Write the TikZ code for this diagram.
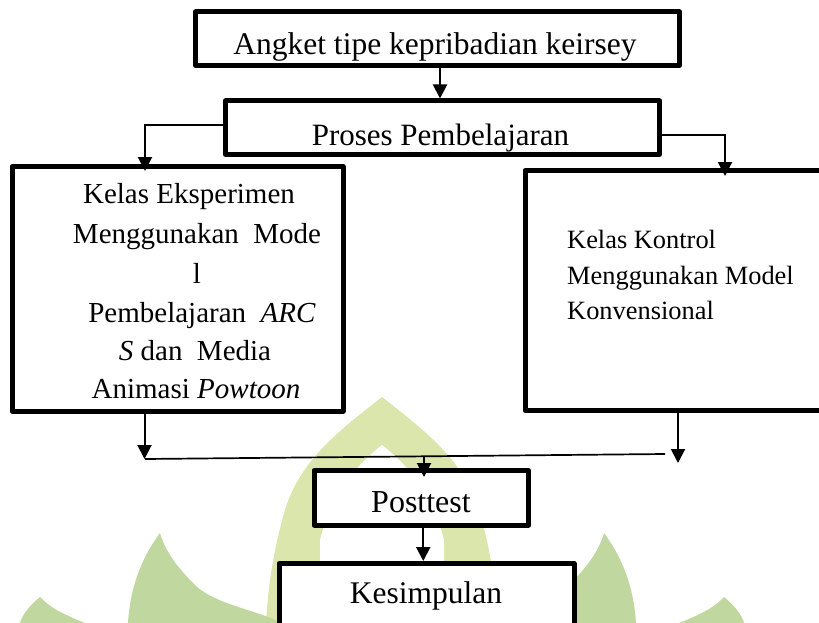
\documentclass[tikz,border=0pt]{standalone}
\usepackage{fontspec}
\setmainfont{Liberation Serif}
\usetikzlibrary{arrows.meta}
\definecolor{wmlight}{RGB}{218,230,172}
\definecolor{wmdark}{RGB}{193,215,160}
\newcommand{\myfs}[1]{\fontsize{#1}{#1}\selectfont}
\tikzset{
  box/.style={draw=black, fill=white, line width=5pt, line join=round, rectangle, inner sep=0pt},
  txt/.style={anchor=base, inner sep=0pt},
  arr/.style={line width=2pt, -{Triangle[width=14pt,length=14pt]}},
  thinline/.style={line width=1.7pt}
}
\begin{document}
\begin{tikzpicture}[x=1pt,y=-1pt]
\useasboundingbox (0,0) rectangle (819,623);
% watermark
\fill[wmlight] (382,397) .. controls (340,430) and (300,460) .. (285,510) .. controls (272,555) and (268,590) .. (266,623) -- (498,623) .. controls (496,590) and (492,555) .. (479,510) .. controls (464,460) and (424,430) .. (382,397) -- cycle;
\fill[white] (382,445) .. controls (350,470) and (330,500) .. (320,540) -- (320,623) -- (444,623) -- (444,540) .. controls (434,500) and (414,470) .. (382,445) -- cycle;
\fill[wmdark] (160,533) .. controls (140,560) and (130,590) .. (128,623) -- (280,623) .. controls (265,612) and (215,605) .. (195,585) .. controls (175,565) and (165,550) .. (160,533) -- cycle;
\fill[wmdark] (604,533) .. controls (624,560) and (634,590) .. (636,623) -- (484,623) .. controls (499,612) and (549,605) .. (569,585) .. controls (589,565) and (599,550) .. (604,533) -- cycle;
\fill[wmdark] (40,597) .. controls (30,605) and (22,615) .. (20,623) -- (85,623) .. controls (65,615) and (50,608) .. (40,597) -- cycle;
\fill[wmdark] (724,597) .. controls (734,605) and (742,615) .. (744,623) -- (679,623) .. controls (699,615) and (714,608) .. (724,597) -- cycle;
% boxes
\node[box, minimum width=484pt, minimum height=53.5pt] (angket) at (437.5,38.75) {};
\node[box, minimum width=434pt, minimum height=53.5pt] (proses) at (442.5,127.75) {};
\node[box, minimum width=331pt, minimum height=244.5pt] (left) at (177.5,288.75) {};
\node[box, minimum width=311pt, minimum height=240pt] (right) at (680.5,290.5) {};
\node[box, minimum width=214.5pt, minimum height=54.5pt] (post) at (421.25,497.75) {};
\node[box, minimum width=295pt, minimum height=86.5pt] (kes) at (426.5,606.75) {};
% texts
\begin{scope}
\clip (198,14.5) rectangle (677,63);
\node[txt, font=\myfs{31.5}] (tangket) at (435,55) {Angket tipe kepribadian keirsey};
\end{scope}
\begin{scope}
\clip (228,103.5) rectangle (657,152);
\node[txt, font=\myfs{31}] (tproses) at (440.5,145.5) {Proses Pembelajaran};
\end{scope}
\node[txt, font=\myfs{29}] (l1) at (189,203) {Kelas Eksperimen};
\node[txt, font=\myfs{29}] (l2) at (197,243) {Menggunakan\ \ Mode};
\node[txt, font=\myfs{29}] (l3) at (197,283) {l};
\node[txt, font=\myfs{29}] (l4) at (202,322) {Pembelajaran\ \ \textit{ARC}};
\node[txt, font=\myfs{29}] (l5) at (195,360) {\textit{S} dan\ \ Media};
\node[txt, font=\myfs{29}] (l6) at (196,398) {Animasi \textit{Powtoon}};
\node[txt, anchor=base west, font=\myfs{26.4}] (r1) at (567,248) {Kelas Kontrol};
\node[txt, anchor=base west, font=\myfs{26.4}] (r2) at (567,284) {Menggunakan Model};
\node[txt, anchor=base west, font=\myfs{26.4}] (r3) at (567,319) {Konvensional};
\node[txt, font=\myfs{32}] (tpost) at (421,512) {Posttest};
\node[txt, font=\myfs{31.5}] (tkes) at (426,603) {Kesimpulan};
% connectors
\coordinate (jl) at (145,459);
\coordinate (jr) at (665,454);
\coordinate (jm) at (424,456.5);
\coordinate (rt) at (678,463);
\draw[arr] ([xshift=2.5pt]angket.south) -- ([xshift=2.5pt]angket.south |- proses.north);
\draw[arr, shorten >=-7pt] ([yshift=2.75pt]proses.west) -| ([xshift=-32.5pt]left.north);
\draw[arr, shorten >=-8pt] ([yshift=-7.25pt]proses.east) -| ([xshift=44.5pt]right.north);
\draw[arr] ([xshift=-33pt]left.south) -- ([xshift=-33pt]left.south |- jl);
\draw[arr] ([xshift=-2.5pt]right.south) -- (rt);
\draw[thinline] (jl) -- (jr);
\draw[arr, shorten >=-9pt] (jm) -- (jm |- post.north);
\draw[arr] ([xshift=2pt]post.south) -- ([xshift=2pt]post.south |- kes.north);
\end{tikzpicture}
\end{document}
